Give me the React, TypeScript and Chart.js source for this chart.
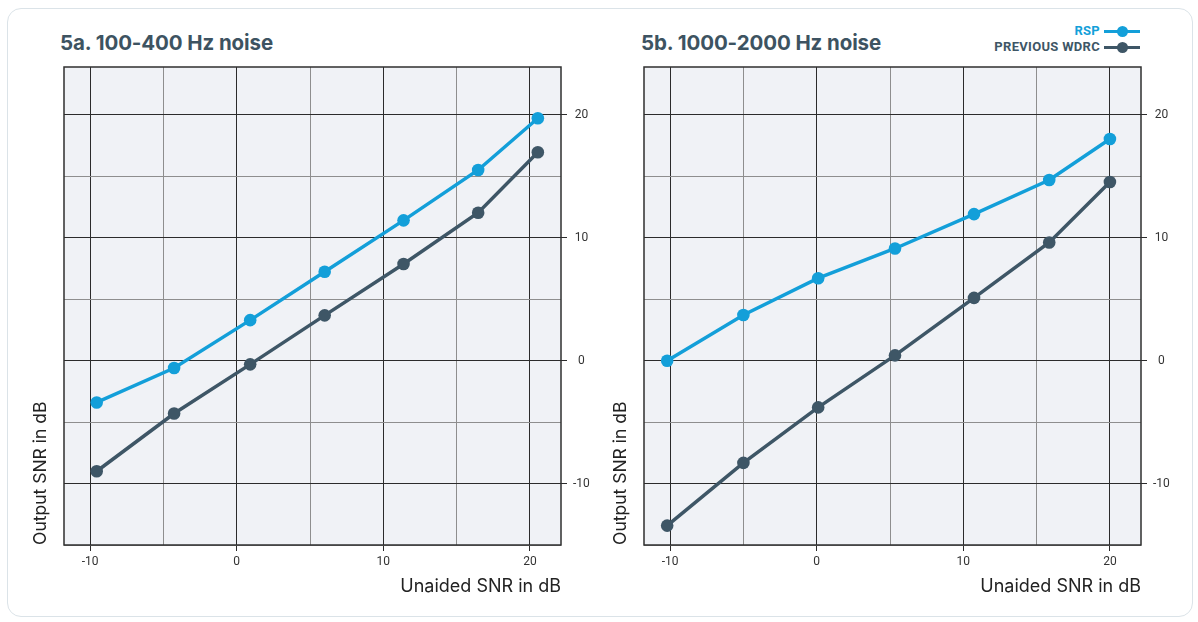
import React, { useEffect, useRef } from 'react';
import { Chart, registerables } from 'chart.js';

Chart.register(...registerables);

// ---- data ----
const xTickValues = [-10, -5, 0, 5, 10, 15, 20];
const yTickValues = [-15, -10, -5, 0, 5, 10, 15, 20];

const leftX = [-9.55, -4.27, 0.92, 6.0, 11.38, 16.47, 20.54];
const leftRSP = [-3.4, -0.6, 3.3, 7.24, 11.42, 15.52, 19.73];
const leftWDRC = [-9.0, -4.3, -0.3, 3.69, 7.87, 12.04, 16.96];

const rightX = [-10.2, -5.0, 0.1, 5.34, 10.73, 15.86, 20.0];
const rightRSP = [0.0, 3.72, 6.71, 9.13, 11.93, 14.7, 18.04];
const rightWDRC = [-13.42, -8.32, -3.8, 0.43, 5.11, 9.62, 14.54];

const seriesNames = ['RSP', 'PREVIOUS WDRC'];
const titles = ['5a. 100-400 Hz noise', '5b. 1000-2000 Hz noise'];
const xTitle = 'Unaided SNR in dB';
const yTitle = 'Output SNR in dB';

const BLUE = '#139fd9';
const SLATE = '#3e5666';
const MAJOR = '#2b2b2b';
const MINOR = '#8e8e8e';

const plotFrame = {
  id: 'plotFrame',
  beforeDraw(chart: any) {
    const { ctx, chartArea } = chart;
    ctx.save();
    ctx.fillStyle = '#f0f2f6';
    ctx.fillRect(chartArea.left, chartArea.top, chartArea.width, chartArea.height);
    ctx.restore();
  },
  beforeDatasetsDraw(chart: any) {
    const { ctx, chartArea } = chart;
    ctx.save();
    ctx.strokeStyle = '#2f2f2f';
    ctx.lineWidth = 1.5;
    ctx.strokeRect(chartArea.left, chartArea.top, chartArea.width, chartArea.height);
    ctx.restore();
  },
};

function isMajor(c: any) {
  return c && c.tick && Math.abs(c.tick.value % 10) < 1e-6;
}

function makeConfig(xs: number[], rsp: number[], wdrc: number[]): any {
  const toPts = (ys: number[]) => xs.map((x, i) => ({ x, y: ys[i] }));
  return {
    type: 'line',
    data: {
      datasets: [
        {
          label: seriesNames[1],
          data: toPts(wdrc),
          borderColor: SLATE,
          backgroundColor: SLATE,
          pointBackgroundColor: SLATE,
          borderWidth: 3.5,
          pointRadius: 6.3,
          pointBorderWidth: 0,
          tension: 0,
        },
        {
          label: seriesNames[0],
          data: toPts(rsp),
          borderColor: BLUE,
          backgroundColor: BLUE,
          pointBackgroundColor: BLUE,
          borderWidth: 3.5,
          pointRadius: 6.3,
          pointBorderWidth: 0,
          tension: 0,
        },
      ],
    },
    options: {
      responsive: false,
      animation: false,
      layout: { padding: { top: 7, left: 0, right: 0, bottom: 0 } },
      plugins: { legend: { display: false }, tooltip: { enabled: false } },
      scales: {
        x: {
          type: 'linear',
          min: -11.78,
          max: 22.12,
          afterBuildTicks: (s: any) => {
            s.ticks = xTickValues.map((v) => ({ value: v }));
          },
          afterFit: (s: any) => {
            s.height = 70;
            s.paddingLeft = 0;
            s.paddingRight = 0;
          },
          border: { display: false },
          grid: {
            color: (c: any) => (isMajor(c) ? MAJOR : MINOR),
            tickColor: (c: any) => (isMajor(c) ? MAJOR : 'rgba(0,0,0,0)'),
            lineWidth: 1,
            tickLength: 6,
          },
          ticks: {
            autoSkip: false,
            maxRotation: 0,
            padding: 4,
            color: '#333',
            font: { family: 'Roboto', size: 12 },
            callback: (v: any) => (Math.abs(v % 10) < 1e-6 ? String(v) : ''),
          },
          title: {
            display: true,
            text: xTitle,
            align: 'end',
            color: '#222',
            font: { family: 'Inter', size: 18, weight: 400 },
            padding: { top: 0, bottom: 18 },
          },
        },
        y: {
          type: 'linear',
          position: 'right',
          min: -15,
          max: 23.9,
          afterBuildTicks: (s: any) => {
            s.ticks = yTickValues.map((v) => ({ value: v }));
          },
          afterFit: (s: any) => {
            s.width = 29;
            s.paddingTop = 0;
            s.paddingBottom = 0;
          },
          border: { display: false },
          grid: {
            color: (c: any) => (isMajor(c) ? MAJOR : MINOR),
            tickColor: (c: any) => (isMajor(c) ? MAJOR : 'rgba(0,0,0,0)'),
            lineWidth: 1,
            tickLength: 6,
          },
          ticks: {
            autoSkip: false,
            crossAlign: 'center',
            padding: 6,
            color: '#333',
            font: { family: 'Roboto', size: 12 },
            callback: (v: any) => (Math.abs(v % 10) < 1e-6 ? String(v) : ''),
          },
        },
        y2: {
          type: 'linear',
          position: 'left',
          min: -15,
          max: 23.9,
          afterFit: (s: any) => {
            s.width = 44;
            s.paddingTop = 0;
            s.paddingBottom = 0;
          },
          border: { display: false },
          grid: { display: false, drawTicks: false },
          ticks: { display: false },
          title: {
            display: true,
            text: yTitle,
            align: 'start',
            color: '#222',
            font: { family: 'Inter', size: 17.5, weight: 400 },
            padding: { top: 10, bottom: 0 },
          },
        },
      },
    },
    plugins: [plotFrame],
  };
}

function Panel(props: { left: number; xs: number[]; rsp: number[]; wdrc: number[] }) {
  const ref = useRef<HTMLCanvasElement | null>(null);
  useEffect(() => {
    if (!ref.current) return;
    const chart = new Chart(ref.current, makeConfig(props.xs, props.rsp, props.wdrc));
    return () => chart.destroy();
  }, []);
  return (
    <canvas
      ref={ref}
      width={570}
      height={555}
      style={{ position: 'absolute', left: props.left, top: 60, width: 570, height: 555 }}
    />
  );
}

function Swatch(props: { color: string; top: number }) {
  return (
    <div style={{ position: 'absolute', left: 1104, top: props.top, width: 36, height: 12 }}>
      <div
        style={{
          position: 'absolute',
          left: 0,
          top: 4.5,
          width: 36,
          height: 3,
          background: props.color,
        }}
      />
      <div
        style={{
          position: 'absolute',
          left: 12.5,
          top: 0.5,
          width: 11,
          height: 11,
          borderRadius: '50%',
          background: props.color,
        }}
      />
    </div>
  );
}

export default function App() {
  const titleStyle: any = {
    position: 'absolute',
    top: 30,
    height: 26,
    lineHeight: '26px',
    fontFamily: 'Inter, sans-serif',
    fontWeight: 700,
    fontSize: 20.5,
    letterSpacing: '-0.1px',
    color: '#3d5361',
    whiteSpace: 'nowrap',
  };
  const legendText: any = {
    position: 'absolute',
    left: 900,
    width: 200,
    textAlign: 'right',
    fontFamily: 'Roboto, sans-serif',
    fontWeight: 700,
    fontSize: 13,
    letterSpacing: '0.3px',
    lineHeight: '16px',
    whiteSpace: 'nowrap',
  };
  return (
    <div style={{ position: 'absolute', left: 0, top: 0, width: 1198, height: 622, background: '#fff' }}>
      <div
        style={{
          position: 'absolute',
          left: 7,
          top: 8,
          width: 1186,
          height: 609,
          boxSizing: 'border-box',
          border: '1px solid #dbe3e8',
          borderRadius: 14,
        }}
      />
      <div style={{ ...titleStyle, left: 60 }}>{titles[0]}</div>
      <div style={{ ...titleStyle, left: 641 }}>{titles[1]}</div>
      <div style={{ ...legendText, top: 23, color: BLUE }}>{seriesNames[0]}</div>
      <div style={{ ...legendText, top: 39, color: SLATE }}>{seriesNames[1]}</div>
      <Swatch color={BLUE} top={25} />
      <Swatch color={SLATE} top={41} />
      <Panel left={20} xs={leftX} rsp={leftRSP} wdrc={leftWDRC} />
      <Panel left={600} xs={rightX} rsp={rightRSP} wdrc={rightWDRC} />
    </div>
  );
}
